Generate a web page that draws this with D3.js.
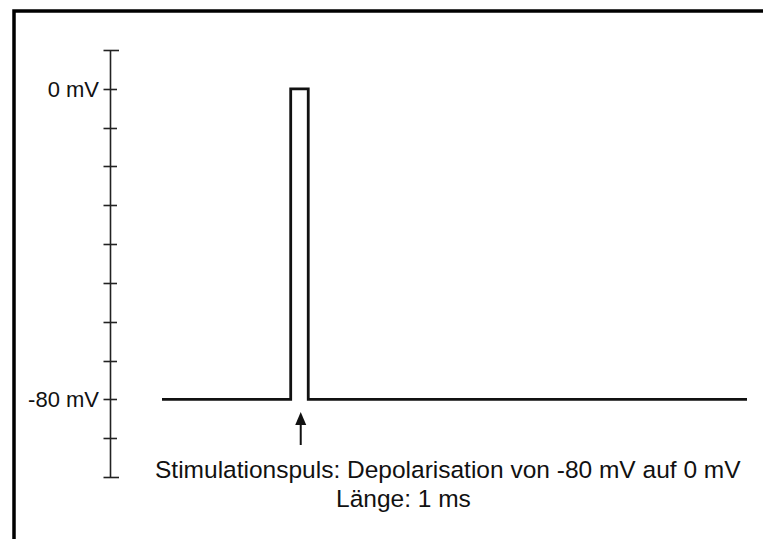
<!DOCTYPE html>
<html><head><meta charset="utf-8">
<script src="https://cdn.jsdelivr.net/npm/d3@7"></script>
<style>html,body{margin:0;padding:0;background:#fff;overflow:hidden;}svg{display:block;font-family:"Liberation Sans",Arial,sans-serif;}</style>
</head><body>
<script>
// Data
const timeMs   = [0, 7.7, 7.7, 8.75, 8.75, 35];  // time points (ms)
const voltage  = [-80, -80, 0, 0, -80, -80];     // membrane potential (mV)
const tickValues = [10, 0, -10, -20, -30, -40, -50, -60, -70, -80, -90, -100];
const tickLabels = {"0": "0 mV", "-80": "-80 mV"};
const arrowTime = 8.3;
const noteLines = ["Stimulationspuls: Depolarisation von -80 mV auf 0 mV", "Länge: 1 ms"];

const W = 763, H = 539;
const svg = d3.select("body").append("svg").attr("width", W).attr("height", H)
  .attr("viewBox", `0 0 ${W} ${H}`).style("overflow", "hidden");
svg.append("rect").attr("width", W).attr("height", H).attr("fill", "#fff");

// frame (only the top and left edges are inside the picture)
svg.append("path").attr("d", `M14,${H + 10} L14,11 L${W + 10},11`)
  .attr("fill", "none").attr("stroke", "#000").attr("stroke-width", 3.5);

const x = d3.scaleLinear().domain([0, 35]).range([162, 747]);
const y = d3.scaleLinear().domain([10, -100]).range([50, 477]);
const axisX = 110.5;

// axis line
svg.append("line").attr("x1", axisX).attr("x2", axisX).attr("y1", y(10)).attr("y2", y(-100))
  .attr("stroke", "#222").attr("stroke-width", 1.6);
// ticks
svg.selectAll("line.tick").data(tickValues).join("line").attr("class", "tick")
  .attr("x1", axisX - 7)
  .attr("x2", d => (d === 10 || d === -100) ? axisX + 8.5 : axisX + 6.5)
  .attr("y1", d => Math.round(y(d)) + 0.5).attr("y2", d => Math.round(y(d)) + 0.5)
  .attr("stroke", "#222").attr("stroke-width", 1.6);
// labels
svg.selectAll("text.lab").data(tickValues.filter(d => tickLabels[d] !== undefined)).join("text")
  .attr("class", "lab")
  .attr("x", 99).attr("y", d => y(d) + 7.8)
  .attr("text-anchor", "end").attr("font-size", 22).attr("fill", "#111")
  .text(d => tickLabels[d]);

// signal
const pts = timeMs.map((t, i) => [t, voltage[i]]);
svg.append("path").datum(pts)
  .attr("d", d3.line().x(d => x(d[0])).y(d => y(d[1])))
  .attr("fill", "none").attr("stroke", "#111").attr("stroke-width", 2.8)
  .attr("stroke-linejoin", "miter");

// arrow
const ax = x(arrowTime);
svg.append("line").attr("x1", ax).attr("x2", ax).attr("y1", 423).attr("y2", 445)
  .attr("stroke", "#111").attr("stroke-width", 2);
svg.append("path").attr("d", `M${ax},412 L${ax - 5.5},425 L${ax + 5.5},425 Z`).attr("fill", "#111");

// note
svg.append("text").attr("x", 155).attr("y", 478).attr("font-size", 24.5).attr("fill", "#111").text(noteLines[0]);
svg.append("text").attr("x", 336).attr("y", 507).attr("font-size", 24.5).attr("fill", "#111").text(noteLines[1]);
</script>
</body></html>
